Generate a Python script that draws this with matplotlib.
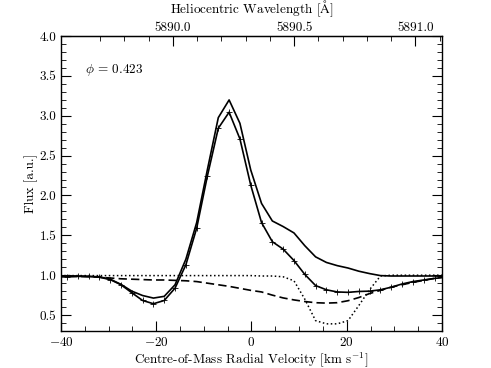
import numpy as np
import matplotlib
matplotlib.use('Agg')
import matplotlib.pyplot as plt
from matplotlib.ticker import MultipleLocator, FormatStrFormatter, FixedLocator

plt.rcParams['font.family'] = ['cmr10', 'DejaVu Serif']
plt.rcParams['mathtext.fontset'] = 'cm'
plt.rcParams['axes.formatter.use_mathtext'] = True
plt.rcParams['axes.unicode_minus'] = True

# Velocity grid (km/s)
vel = [-41.02, -38.75, -36.48, -34.21, -31.94, -29.67, -27.40, -25.13, -22.86,
       -20.59, -18.32, -16.05, -13.78, -11.51, -9.24, -6.97, -4.70, -2.43,
       -0.16, 2.11, 4.38, 6.65, 8.92, 11.19, 13.46, 15.73, 18.00, 20.27,
       22.54, 24.81, 27.08, 29.35, 31.62, 33.89, 36.16, 38.43, 40.70]

# upper solid profile
flux_top = [0.99, 0.99, 0.99, 0.985, 0.98, 0.95, 0.885, 0.80, 0.745,
            0.713, 0.735, 0.88, 1.20, 1.66, 2.33, 2.976, 3.198, 2.905,
            2.32, 1.90, 1.68, 1.61, 1.53, 1.37, 1.23, 1.16, 1.12, 1.09,
            1.05, 1.02, 0.995, 0.99, 0.99, 0.99, 0.99, 0.99, 0.985]

# solid profile with markers
flux_obs = [0.98, 0.98, 0.985, 0.985, 0.975, 0.945, 0.88, 0.78, 0.683,
            0.642, 0.683, 0.838, 1.13, 1.59, 2.25, 2.843, 3.044, 2.71,
            2.13, 1.66, 1.42, 1.327, 1.184, 1.01, 0.87, 0.817, 0.79, 0.785,
            0.796, 0.80, 0.817, 0.85, 0.89, 0.92, 0.94, 0.96, 0.975]

# dashed profile
flux_dash = [0.985, 0.985, 0.985, 0.98, 0.975, 0.965, 0.955, 0.95, 0.945,
             0.94, 0.94, 0.935, 0.93, 0.92, 0.90, 0.88, 0.86, 0.835,
             0.81, 0.79, 0.75, 0.715, 0.69, 0.67, 0.655, 0.65, 0.655, 0.68,
             0.72, 0.77, 0.81, 0.85, 0.88, 0.91, 0.935, 0.96, 0.98]

# dotted profile
flux_dot = [0.995, 0.995, 0.995, 0.995, 0.995, 0.995, 0.995, 0.995, 0.995,
            0.995, 0.995, 0.995, 0.995, 0.995, 0.995, 0.995, 0.995, 0.995,
            0.995, 0.99, 0.99, 0.98, 0.93, 0.70, 0.43, 0.39, 0.39, 0.43,
            0.62, 0.82, 0.99, 1.0, 1.0, 1.0, 1.0, 1.0, 1.0]

# wavelength ticks on the top axis
wl_major = [5890.0, 5890.5, 5891.0]
wl_minor = [5889.7, 5889.8, 5889.9, 5890.1, 5890.2, 5890.3, 5890.4,
            5890.6, 5890.7, 5890.8, 5890.9, 5891.1]

phase_label = r'$\phi$ = 0.423'

c_kms = 299792.458
lam0 = 5890.324


def v2l(v):
    return lam0 * (1 + np.asarray(v) / c_kms)


def l2v(l):
    return (np.asarray(l) / lam0 - 1) * c_kms


fig = plt.figure(figsize=(4.91, 3.68), dpi=100)
ax = fig.add_axes([0.1242, 0.1005, 0.776, 0.8017])

ax.plot(vel, flux_top, color='black', lw=1.2)
ax.plot(vel, flux_obs, color='black', lw=1.2, marker='+', ms=5, mew=0.6)
ax.plot(vel, flux_dash, color='black', lw=1.2, dashes=(5, 2.5))
ax.plot(vel, flux_dot, color='black', lw=1.1, ls=':')

ax.set_xlim(-40, 40)
ax.set_ylim(0.3, 4.0)
ax.xaxis.set_major_locator(MultipleLocator(20))
ax.xaxis.set_minor_locator(MultipleLocator(5))
ax.yaxis.set_major_locator(MultipleLocator(0.5))
ax.yaxis.set_minor_locator(MultipleLocator(0.1))
ax.yaxis.set_major_formatter(FormatStrFormatter('%.1f'))
ax.tick_params(which='both', direction='in', right=True, top=False, labelsize=9.5)
ax.tick_params(which='major', length=7, width=0.8)
ax.tick_params(which='minor', length=3.5, width=0.6)

ax.set_xlabel(r'Centre-of-Mass Radial Velocity [km s$^{-1}$]', fontsize=9.5, labelpad=1)
ax.set_ylabel('Flux [a.u.]', fontsize=9.5, labelpad=1)

sec = ax.secondary_xaxis('top', functions=(v2l, l2v))
sec.xaxis.set_major_locator(FixedLocator(wl_major))
sec.xaxis.set_minor_locator(FixedLocator(wl_minor))
sec.xaxis.set_major_formatter(FormatStrFormatter('%.1f'))
sec.tick_params(which='both', direction='in', labelsize=9.5, pad=1.5)
sec.tick_params(which='major', length=7, width=0.8)
sec.tick_params(which='minor', length=3.5, width=0.6)
sec.set_xlabel(r'Heliocentric Wavelength [$\mathrm{\AA}$]', fontsize=9.5, labelpad=6)

for s in ax.spines.values():
    s.set_linewidth(1.0)

ax.text(0.063, 0.885, phase_label, transform=ax.transAxes, fontsize=9.5,
        va='center', ha='left')

fig.savefig('out.png', dpi=100)
